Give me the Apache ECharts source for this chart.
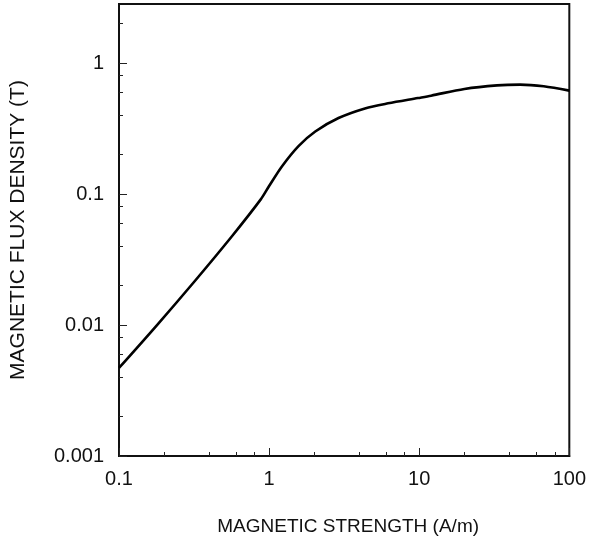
<!DOCTYPE html>
<html>
<head>
<meta charset="utf-8">
<script src="https://cdn.jsdelivr.net/npm/echarts@6/dist/echarts.min.js"></script>
<style>
html,body{margin:0;padding:0;background:#fff;}
#chart{width:589px;height:541px;}
</style>
</head>
<body>
<div id="chart"></div>
<script>
// Magnetic strength (A/m)
const strength = [0.1, 0.178, 0.316, 0.562, 0.88, 1.0, 1.22, 1.57, 2.03, 2.9, 4.35, 6.2, 9.8, 12, 20, 33, 47, 67.5, 100];
// Magnetic flux density (T)
const fluxDensity = [0.0047, 0.0099, 0.0213, 0.0472, 0.091, 0.115, 0.163, 0.232, 0.30, 0.38, 0.45, 0.492, 0.54, 0.563, 0.634, 0.675, 0.684, 0.664, 0.615];

const xMajorTicks = [0.1, 1, 10, 100];
const xMinorTicks = [0.2, 0.4, 0.6, 0.8, 2, 4, 6, 8, 20, 40, 60, 80];
const yMajorTicks = [0.001, 0.01, 0.1, 1];
const yMinorTicks = [0.002, 0.004, 0.006, 0.008, 0.02, 0.04, 0.06, 0.08, 0.2, 0.4, 0.6, 0.8, 2];

const xMin = 0.1, xMax = 100, yMin = 0.001, yMax = 2.82;
const FONT = '"Liberation Sans", Arial, Helvetica, sans-serif';

const chart = echarts.init(document.getElementById('chart'), null, {renderer: 'canvas'});

function fmt(v) {
  if (v >= 1) return String(Math.round(v));
  return String(Number(v.toPrecision(3)));
}

const option = {
  animation: false,
  backgroundColor: '#fff',
  grid: {
    left: 119, right: 16, top: 4, bottom: 84,
    show: true, borderColor: '#111', borderWidth: 2, backgroundColor: 'transparent'
  },
  xAxis: [
    {
      type: 'log', logBase: 10, min: xMin, max: xMax,
      name: 'MAGNETIC STRENGTH (A/m)', nameLocation: 'middle', nameGap: 61,
      nameTextStyle: {fontFamily: FONT, fontSize: 19, color: '#111', padding: [0, 0, 0, 8]},
      axisLine: {show: true, lineStyle: {color: '#111', width: 2}},
      axisTick: {show: true, inside: true, length: 8, customValues: xMajorTicks, lineStyle: {color: '#222', width: 1}},
      axisLabel: {show: true, customValues: xMajorTicks, margin: 13, fontFamily: FONT, fontSize: 20, color: '#111', formatter: fmt},
      splitLine: {show: false},
      minorTick: {show: false}
    },
    {
      type: 'log', logBase: 10, min: xMin, max: xMax, position: 'bottom',
      axisLine: {show: false},
      axisTick: {show: true, inside: true, length: 4, customValues: xMinorTicks, lineStyle: {color: '#222', width: 1}},
      axisLabel: {show: false},
      splitLine: {show: false}
    }
  ],
  yAxis: [
    {
      type: 'log', logBase: 10, min: yMin, max: yMax,
      name: 'MAGNETIC FLUX DENSITY (T)', nameLocation: 'middle', nameGap: 90, nameRotate: 90,
      nameTextStyle: {fontFamily: FONT, fontSize: 21, color: '#111'},
      axisLine: {show: true, lineStyle: {color: '#111', width: 2}},
      axisTick: {show: true, inside: true, length: 8, customValues: yMajorTicks, lineStyle: {color: '#222', width: 1}},
      axisLabel: {show: true, customValues: yMajorTicks, margin: 15, fontFamily: FONT, fontSize: 20, color: '#111', formatter: fmt},
      splitLine: {show: false}
    },
    {
      type: 'log', logBase: 10, min: yMin, max: yMax, position: 'left',
      axisLine: {show: false},
      axisTick: {show: true, inside: true, length: 4, customValues: yMinorTicks, lineStyle: {color: '#222', width: 1}},
      axisLabel: {show: false},
      splitLine: {show: false}
    }
  ],
  series: [
    {
      type: 'line',
      xAxisIndex: 0, yAxisIndex: 0,
      data: strength.map((x, i) => [x, fluxDensity[i]]),
      smooth: 0.3,
      showSymbol: false,
      lineStyle: {color: '#000', width: 2.6},
      clip: true
    }
  ]
};
chart.setOption(option);
</script>
</body>
</html>
